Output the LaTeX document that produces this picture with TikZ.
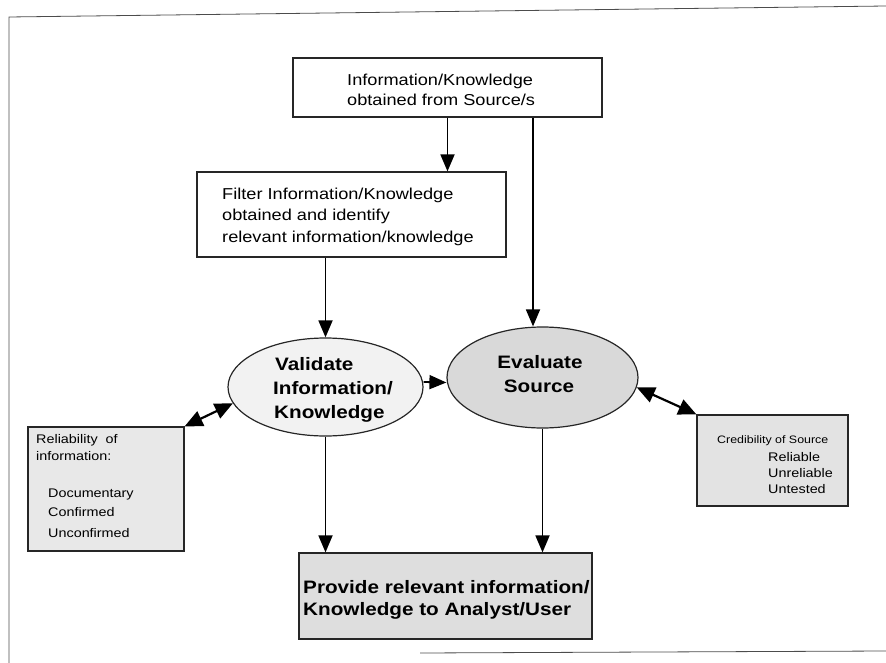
\documentclass[tikz,border=0pt]{standalone}
\usepackage{fontspec}
\setmainfont{Liberation Sans}[FakeStretch=1.15]
\usetikzlibrary{arrows.meta,shapes.geometric}
\begin{document}
\begin{tikzpicture}[x=1pt,y=-1pt,
  boxst/.style={draw=black!85, line width=1.2pt, rectangle, inner sep=0pt},
  ellst/.style={draw=black!85, line width=1.2pt, ellipse, inner sep=0pt},
  arr/.style={line width=1.8pt, -{Triangle[length=17pt,width=14pt]}},
  darr/.style={line width=2.2pt, {Triangle[length=18pt,width=16pt]}-{Triangle[length=18pt,width=16pt]}},
  txt/.style={anchor=base west, inner sep=0pt},
  ctxt/.style={anchor=base, inner sep=0pt},
  big/.style={font=\fontsize{18}{20}\selectfont\bfseries},
  mid/.style={font=\fontsize{15.8}{18}\selectfont},
  sml/.style={font=\fontsize{12.5}{14}\selectfont}]
\useasboundingbox (0,0) rectangle (886,663);
% frame
\draw[line width=0.8pt, black!70] (9,663) -- (9,17) -- (886,6);
\draw[line width=0.8pt, black!70] (420,653) -- (886,651);

% boxes
\node[boxst, minimum width=309pt, minimum height=59pt] (src) at (447.5,87.5) {};
\node[boxst, minimum width=309pt, minimum height=85pt] (filt) at (351.5,214.5) {};
\node[ellst, fill=black!5, minimum width=195pt, minimum height=98pt] (val) at (325.5,387) {};
\node[ellst, fill=black!15, minimum width=191pt, minimum height=101pt] (eva) at (542.5,377.5) {};
\node[boxst, fill=black!9, minimum width=156pt, minimum height=124pt] (rel) at (106,489) {};
\node[boxst, fill=black!11, minimum width=151pt, minimum height=91pt] (cred) at (772.5,460.5) {};
\node[boxst, fill=black!13, minimum width=293pt, minimum height=86pt] (prov) at (445.5,596) {};

% texts
\node[txt, mid] (t1) at (347,86) {Information/Knowledge};
\node[txt, mid] (t2) at (347,106) {obtained from Source/s};
\node[txt, mid] (f1) at (222,200) {Filter Information/Knowledge};
\node[txt, mid] (f2) at (222,221) {obtained and identify};
\node[txt, mid] (f3) at (222,242) {relevant information/knowledge};
\node[txt, big] (v1) at (275,370) {Validate};
\node[txt, big] (v2) at (273,394) {Information/};
\node[txt, big] (v3) at (274,418) {Knowledge};
\node[ctxt, big] (e1) at (540,368) {Evaluate};
\node[ctxt, big] (e2) at (539,392) {Source};
\node[txt, sml] (r1) at (36,443) {Reliability\ \ of};
\node[txt, sml] (r2) at (36,460) {information:};
\node[txt, sml] (r3) at (48,497) {Documentary};
\node[txt, sml] (r4) at (48,516) {Confirmed};
\node[txt, sml] (r5) at (48,537) {Unconfirmed};
\node[txt, font=\fontsize{10.8}{12}\selectfont] (c1) at (717,443) {Credibility of Source};
\node[txt, sml] (c2) at (768,461) {Reliable};
\node[txt, sml] (c3) at (768,477) {Unreliable};
\node[txt, sml] (c4) at (768,493) {Untested};
\node[txt, big] (p1) at (303,593) {Provide relevant information/};
\node[txt, big] (p2) at (303,615) {Knowledge to Analyst/User};

% connectors
\draw[arr] (src.south) -- (src.south |- filt.north);
\draw[arr] ([xshift=85.5pt]src.south) -- ([xshift=-9.5pt]eva.north);
\draw[arr] (filt.south -| val.north) -- (val.north);
\draw[arr] ([yshift=5pt]val.east) -- ([yshift=-5pt]eva.west);
\draw[arr] (val.south) -- (val.south |- prov.north);
\draw[arr] (eva.south) -- (eva.south |- prov.north);
\draw[darr] (rel.north east) -- (val.190);
\draw[darr] (eva.-6) -- (cred.north west);
\end{tikzpicture}
\end{document}
